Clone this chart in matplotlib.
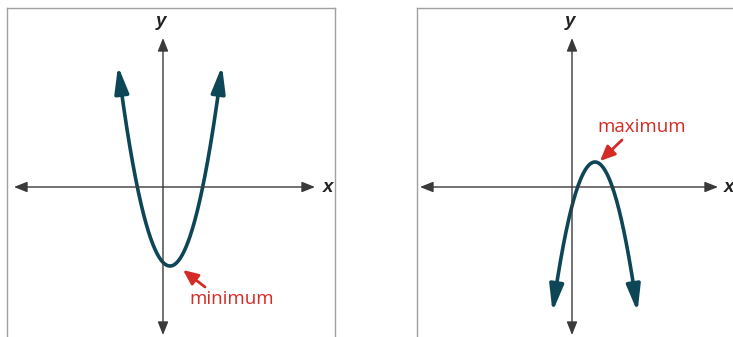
import numpy as np
import matplotlib
matplotlib.use("Agg")
import matplotlib.pyplot as plt

# ---- data (units: 1 unit = 10 px of the original picture) ----
panel_names = ["minimum", "maximum"]
curve_a = [0.74, -0.83]            # leading coefficient
curve_h = [0.7, 2.3]               # vertex x
curve_k = [-7.9, 2.5]              # vertex y
curve_x_ends = [[-4.5, 5.9], [-1.95, 6.55]]   # x of the arrow tips
label_xy = [[6.9, -11.2], [7.0, 6.0]]        # label centre
pointer_from = [[4.2, -10.0], [5.0, 4.7]]
pointer_to = [[2.0, -8.3], [2.8, 2.6]]

axis_x_span = [[-14.9, 15.2], [-15.2, 14.6]]
axis_y_span = [14.9, -14.8]
x_label_offset = [1.3, 1.1]

# panel boxes in pixels (left, right, top, bottom) of a 733x337 canvas
W, H = 733, 337
boxes = [(7, 335, 8, 360), (417, 760, 8, 360)]
origins = [(163, 187), (572, 187)]

CURVE = "#0d4657"
RED = "#d52b27"
AX = "#3a3a3a"

fig = plt.figure(figsize=(W / 100, H / 100), dpi=100)
fig.patch.set_facecolor("white")

for i in range(2):
    l, r, t, b = boxes[i]
    ox, oy = origins[i]
    ax = fig.add_axes([l / W, 1 - b / H, (r - l) / W, (b - t) / H])
    ax.set_xlim((l - ox) / 10, (r - ox) / 10)
    ax.set_ylim((oy - b) / 10, (oy - t) / 10)
    for s in ax.spines.values():
        s.set_color("#a0a0a0")
        s.set_linewidth(1.0)
    ax.set_xticks([])
    ax.set_yticks([])

    # coordinate axes with arrowheads
    xs0, xs1 = axis_x_span[i]
    ax.annotate("", xy=(xs1, 0), xytext=(xs0, 0),
                arrowprops=dict(arrowstyle="<|-|>,head_length=0.8,head_width=0.32",
                                color=AX, lw=1.0, shrinkA=0, shrinkB=0,
                                mutation_scale=10))
    ax.annotate("", xy=(0, axis_y_span[1]), xytext=(0, axis_y_span[0]),
                arrowprops=dict(arrowstyle="<|-|>,head_length=0.8,head_width=0.32",
                                color=AX, lw=1.0, shrinkA=0, shrinkB=0,
                                mutation_scale=10))
    ax.text(xs1 + x_label_offset[i], 0, "x", fontsize=13.5, fontstyle="italic",
            fontweight="bold", ha="center", va="center", color="#222222",
            family="Liberation Sans", clip_on=False)
    ax.text(-0.2, axis_y_span[0] + 1.6, "y", fontsize=13.5, fontstyle="italic",
            fontweight="bold", ha="center", va="center", color="#222222",
            family="Liberation Sans")

    # parabola
    a, h, k = curve_a[i], curve_h[i], curve_k[i]
    f = lambda x: a * (x - h) ** 2 + k
    x0, x1 = curve_x_ends[i]

    def back(xe, d):
        xs = np.linspace(h, xe, 400)
        ys = f(xs)
        dist = np.hypot(xs - xe, ys - f(xe))
        j = np.argmin(np.abs(dist - d))
        return xs[j]

    xb0, xb1 = back(x0, 1.6), back(x1, 1.6)
    xx = np.linspace(xb0, xb1, 400)
    ax.plot(xx, f(xx), color=CURVE, lw=2.6, solid_capstyle="butt")
    for xe, xb in ((x0, xb0), (x1, xb1)):
        ax.annotate("", xy=(xe, f(xe)), xytext=(xb, f(xb)),
                    arrowprops=dict(arrowstyle="-|>,head_length=1.6,head_width=0.42",
                                    color=CURVE, lw=2.6, shrinkA=0, shrinkB=0,
                                    mutation_scale=10))

    # label + red pointer
    ax.annotate("", xy=pointer_to[i], xytext=pointer_from[i],
                arrowprops=dict(arrowstyle="-|>,head_length=0.9,head_width=0.4",
                                color=RED, lw=2.0, shrinkA=0, shrinkB=0,
                                mutation_scale=10))
    ax.text(label_xy[i][0], label_xy[i][1], panel_names[i], fontsize=13.5,
            color=RED, ha="center", va="center", family="Open Sans")

fig.savefig("out.png", dpi=100, facecolor="white")
